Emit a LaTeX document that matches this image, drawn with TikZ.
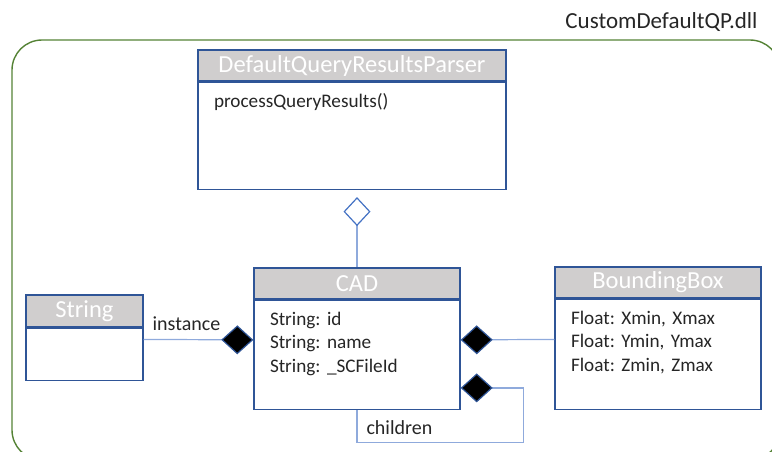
\documentclass[tikz,border=0pt]{standalone}
\usepackage{fontspec}
\setmainfont{Carlito}
\frenchspacing
\usetikzlibrary{arrows.meta,positioning}
\definecolor{umlblue}{HTML}{2F5597}
\definecolor{linkblue}{HTML}{8FAADC}
\definecolor{aggblue}{HTML}{4472C4}
\definecolor{hdrgray}{HTML}{D0CECE}
\definecolor{dllgreen}{HTML}{548235}

\begin{document}
\begin{tikzpicture}[x=1pt,y=-1pt,
 head/.style={draw=umlblue,line width=1.4pt,fill=hdrgray,text=white,font=\fontsize{24.5}{28}\selectfont,minimum height=31pt,inner sep=0pt},
 body/.style={draw=umlblue,line width=1.4pt,fill=white,align=left,text=black!85,font=\fontsize{19.2}{23.5}\selectfont,inner xsep=16pt,inner ysep=8pt,text height=17pt,text depth=#1},
 link/.style={draw=linkblue,line width=1.2pt},
 agg/.style={{Diamond[open,length=29pt,width=27pt,color=aggblue,fill=white]}-},
 comp/.style={{Diamond[length=32pt,width=29pt,color=umlblue,fill=black]}-},
 lbl/.style={font=\fontsize{20}{24}\selectfont,text=black!85}]
\useasboundingbox (0,0) rectangle (772,452);
% package frame
\draw[dllgreen,line width=1.4pt,rounded corners=30pt] (12,40) rectangle (780,460);
\node[font=\fontsize{23}{27}\selectfont,text=black!85,anchor=east] (dll) at (761,22) {CustomDefaultQP.dll};
% classes
\node[head,minimum width=308pt] (parser) at (352,65.5) {DefaultQueryResultsParser};
\node[body=74pt,text width=276pt,below=0pt of parser] (parserBody) {processQueryResults()};
\node[head,minimum width=206pt] (cad) at (357,283.5) {CAD};
\node[body=76pt,text width=174pt,below=0pt of cad] (cadBody) {String: id\\String: name\\String: \_SCFileId};
\node[head,minimum width=117pt,minimum height=32pt] (str) at (84.5,311) {String};
\node[body=19pt,text width=85pt,below=0pt of str] (strBody) {};
\node[head,minimum width=206pt] (bbox) at (658,282.5) {BoundingBox};
\node[body=77pt,text width=174pt,below=0pt of bbox] (bboxBody) {Float: Xmin, Xmax\\Float: Ymin, Ymax\\Float: Zmin, Zmax};
% links
\draw[link,agg,shorten <=7pt] (cad.north |- parserBody.south) -- (cad.north);
\draw[link,comp] ([yshift=15pt]cadBody.west) -- node[lbl,above=5pt,pos=0.61] (instLbl) {instance} ([yshift=15pt]strBody.east);
\draw[link,comp] ([yshift=15pt]cadBody.east) -- ([yshift=15pt]bboxBody.west);
\draw[link,comp] ([yshift=-33pt]cadBody.east) -- ++(63,0) |- ([yshift=-32pt]cadBody.south) -- (cadBody.south);
\node[lbl,anchor=west] (childrenLbl) at ([xshift=6pt,yshift=-18pt]cadBody.south) {children};
\end{tikzpicture}
\end{document}
